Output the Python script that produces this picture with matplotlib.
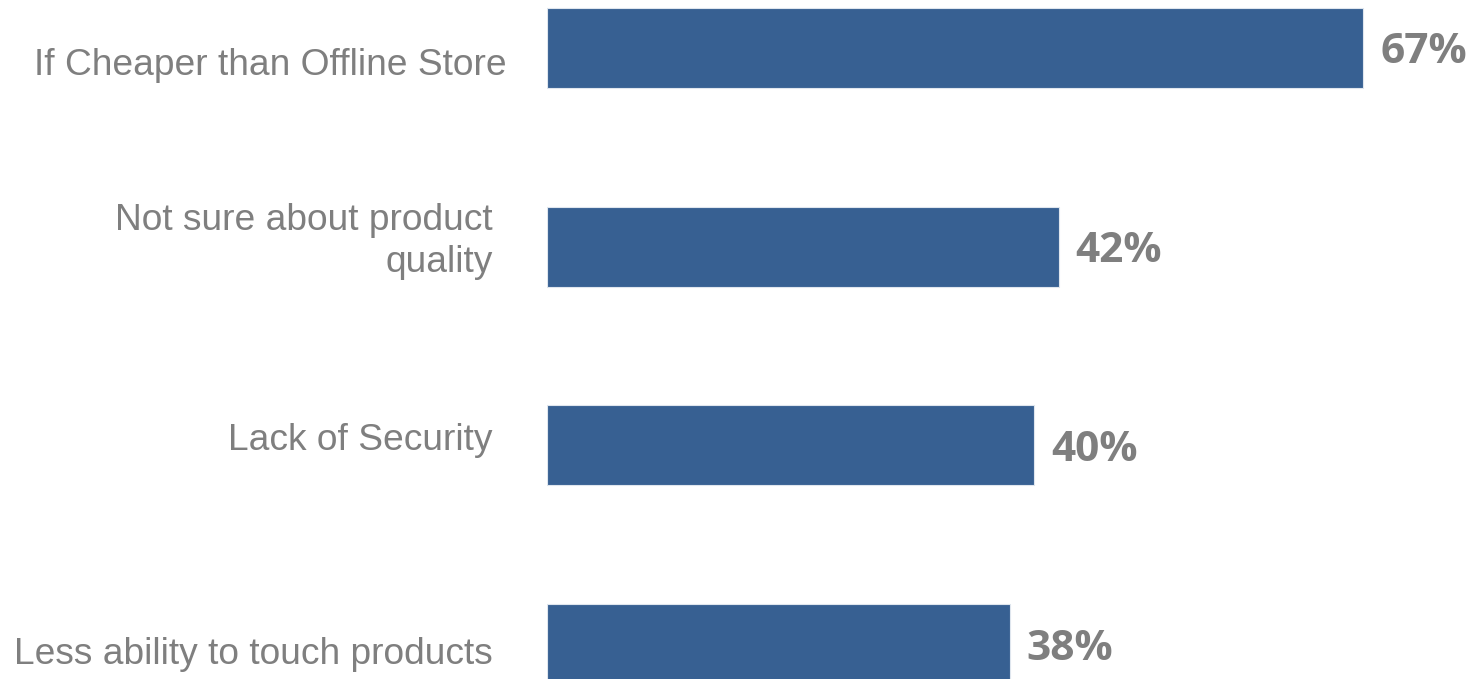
import matplotlib.pyplot as plt

categories = ["If Cheaper than Offline Store", "Not sure about product\nquality",
              "Lack of Security", "Less ability to touch products"]
values = [67, 42, 40, 38]
value_labels = ["67%", "42%", "40%", "38%"]

bar_colour = "#376092"
text_colour = "#7f7f7f"

fig = plt.figure(figsize=(14.7, 6.79), dpi=100)
# axes starts where the bars start and spans the whole height
ax = fig.add_axes([547 / 1470, 0, 923 / 1470, 1])
px = 12.18  # pixels per percent
ax.set_xlim(0, 923 / px)
ax.set_ylim(3 + 35 / 199, -48 / 199)

ypos = list(range(len(categories)))
ax.barh(ypos, values, height=80 / 199, color=bar_colour, edgecolor="#dfe6ee", linewidth=0.8)

# label tweaks (x shift in px from bar start, y shift in px)
label_dx = [-40, -54, -54, -54]
label_dy = [-18, 5, 5, -10]
for y, cat, dx, dy in zip(ypos, categories, label_dx, label_dy):
    ax.annotate(cat, (0, y), xytext=(dx * 0.72, dy * 0.72), textcoords="offset points",
                ha="right", va="center", fontsize=26.7, color=text_colour,
                family="Liberation Sans", linespacing=1.25, annotation_clip=False)

for y, v, lab in zip(ypos, values, value_labels):
    ax.annotate(lab, (v, y), xytext=(17 * 0.72, -5 * 0.72), textcoords="offset points",
                ha="left", va="center", fontsize=30.5, color=text_colour,
                family="Open Sans", fontweight="bold", annotation_clip=False)

ax.axis("off")
fig.savefig("out.png", dpi=100)
